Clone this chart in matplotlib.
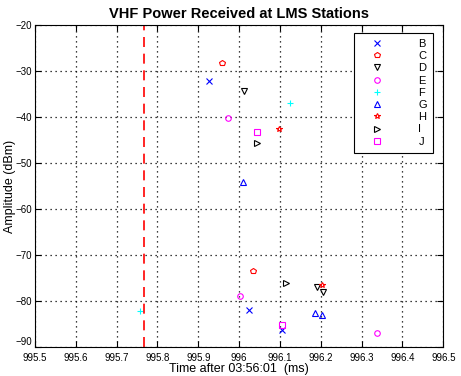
import matplotlib
matplotlib.use("Agg")
import matplotlib.pyplot as plt

plt.rcParams['font.family'] = ['Liberation Sans', 'DejaVu Sans']

# Station data: (time ms, amplitude dBm)
stations = ['B', 'C', 'D', 'E', 'F', 'G', 'H', 'I', 'J']
markers = ['x', 'p', 'v', 'o', '+', '^', '*', '>', 's']
colors = ['#0000ff', '#ff0000', '#000000', '#ff00ff', '#00ffff',
          '#0000ff', '#ff0000', '#000000', '#ff00ff']

t_B = [995.926, 996.024, 996.104]
a_B = [-32.2, -82.0, -86.2]
t_C = [995.958, 996.035]
a_C = [-28.2, -73.4]
t_D = [996.013, 996.190, 996.205]
a_D = [-34.3, -77.0, -77.9]
t_E = [995.973, 996.002, 996.337]
a_E = [-40.1, -78.9, -86.8]
t_F = [996.125, 995.757]
a_F = [-37.0, -82.1]
t_G = [996.009, 996.186, 996.202]
a_G = [-54.2, -82.6, -83.0]
t_H = [996.098, 996.204]
a_H = [-42.5, -76.5]
t_I = [996.043, 996.114]
a_I = [-45.7, -76.1]
t_J = [996.044, 996.104]
a_J = [-43.3, -85.2]

times = [t_B, t_C, t_D, t_E, t_F, t_G, t_H, t_I, t_J]
amps = [a_B, a_C, a_D, a_E, a_F, a_G, a_H, a_I, a_J]

ref_time = 995.767

xticks = [995.5, 995.6, 995.7, 995.8, 995.9, 996.0, 996.1, 996.2, 996.3, 996.4, 996.5]
xticklabels = ['995.5', '995.6', '995.7', '995.8', '995.9', '996', '996.1',
               '996.2', '996.3', '996.4', '996.5']
yticks = [-90, -80, -70, -60, -50, -40, -30, -20]

fig = plt.figure(figsize=(4.61, 3.76), dpi=100)
ax = fig.add_axes([0.0759, 0.0763, 0.8857, 0.8572])

for name, mk, c, t, a in zip(stations, markers, colors, times, amps):
    ax.plot(t, a, linestyle='none', marker=mk, color=c, markerfacecolor='none',
            markersize=4, markeredgewidth=0.8, label=name)

ax.axvline(ref_time, color='#ff0000', linestyle=(0, (6, 4)), linewidth=1.2)

ax.set_xlim(995.5, 996.5)
ax.set_ylim(-90, -20)
ax.set_xticks(xticks)
ax.set_xticklabels(xticklabels)
ax.set_yticks(yticks)
ax.tick_params(direction='in', length=4, labelsize=7, top=True, right=True, width=0.8, pad=2)
ax.tick_params(axis='x', pad=4)
ax.grid(True, color='black', linestyle=(0, (1, 3)), linewidth=0.9)
for s in ax.spines.values():
    s.set_linewidth(0.8)
# nudge bottom y label up a little so it clears the first x label
ax.get_yticklabels()[0].set_verticalalignment('bottom')

ax.set_title('VHF Power Received at LMS Stations', fontsize=10.5, fontweight='bold', pad=5)
ax.set_xlabel('Time after 03:56:01  (ms)', fontsize=9, labelpad=0)
ax.set_ylabel('Amplitude (dBm)', fontsize=9)
ax.yaxis.set_label_coords(-0.047, 0.5)

leg = ax.legend(loc='upper right', bbox_to_anchor=(0.975, 0.976), fontsize=8,
                handlelength=3.0, handletextpad=2.2, borderpad=0.55,
                labelspacing=0.2, fancybox=False, framealpha=1, borderaxespad=0)
leg.get_frame().set_edgecolor('black')
leg.get_frame().set_linewidth(0.8)

fig.savefig('out.png', dpi=100)
